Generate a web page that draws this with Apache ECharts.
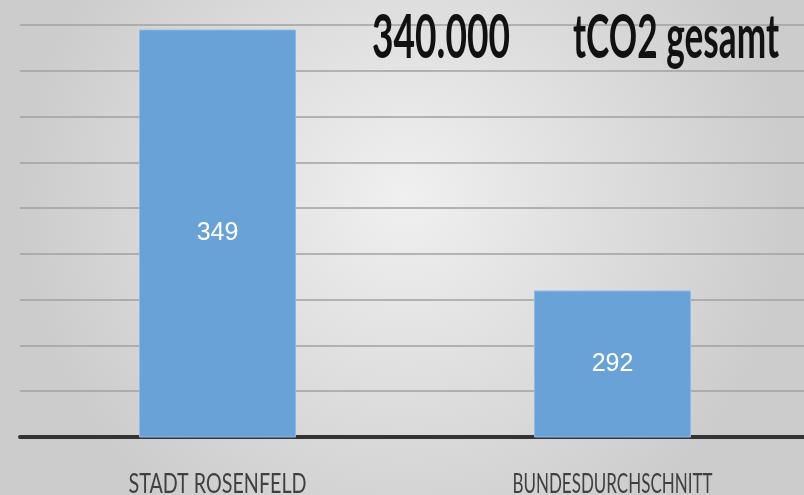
<!DOCTYPE html>
<html>
<head>
<meta charset="utf-8">
<script src="https://cdn.jsdelivr.net/npm/echarts@6/dist/echarts.min.js"></script>
<style>
    html, body { margin: 0; padding: 0; overflow: hidden; }
    /* a bit wider than the window: the plot runs past the right edge */
    #chart { width: 812px; height: 495px; }
</style>
</head>
<body>
<div id="chart"></div>
<script>
var categories = ['STADT ROSENFELD', 'BUNDESDURCHSCHNITT'];
var values = [349, 292];
var totalText = '340.000';
var unitText = 'tCO2 gesamt';
var axisMin = 260, axisMax = 350, axisStep = 10;

// the source uses a narrow font; squeeze text horizontally to a given width
var measureCtx = document.createElement('canvas').getContext('2d');
function squeeze(text, font, targetWidth) {
    measureCtx.font = font;
    return targetWidth / measureCtx.measureText(text).width;
}

var chart = echarts.init(document.getElementById('chart'));
chart.setOption({
    animation: false,
    backgroundColor: {
        type: 'radial', x: 0.5, y: 0.4, r: 0.78,
        colorStops: [{offset: 0, color: '#f0f0f0'}, {offset: 1, color: '#cccccc'}]
    },
    grid: {left: 20, width: 790, top: 25, bottom: 58},
    xAxis: {
        type: 'category',
        data: categories,
        axisTick: {show: false},
        axisLine: {lineStyle: {color: '#333', width: 4}},
        axisLabel: {show: false}
    },
    yAxis: {
        type: 'value',
        min: axisMin, max: axisMax, interval: axisStep,
        axisLabel: {show: false},
        axisLine: {show: false},
        axisTick: {show: false},
        splitLine: {lineStyle: {color: '#a0a0a0', width: 1.5}}
    },
    series: [{
        type: 'bar',
        data: values,
        barWidth: 157,
        itemStyle: {color: '#69a2d7', borderColor: '#8dbbe6', borderWidth: 1},
        label: {
            show: true,
            position: 'inside',
            fontFamily: 'Liberation Sans',
            fontSize: 25,
            color: '#fff'
        }
    }]
});

var titleFont = 'bold 62px Lato';
var labelFont = '27px Lato';
var graphics = [{
    type: 'text', x: 372, y: 38,
    scaleX: squeeze(totalText, titleFont, 138),
    style: {text: totalText, font: titleFont, fill: '#111', textAlign: 'left', textVerticalAlign: 'middle'}
}, {
    type: 'text', x: 573, y: 38,
    scaleX: squeeze(unitText, titleFont, 206),
    style: {text: unitText, font: titleFont, fill: '#111', textAlign: 'left', textVerticalAlign: 'middle'}
}];
var labelWidths = [178, 200];
categories.forEach(function (name, i) {
    var x = chart.convertToPixel({xAxisIndex: 0}, name);
    graphics.push({
        type: 'text', x: x, y: 484,
        scaleX: squeeze(name, labelFont, labelWidths[i]),
        style: {text: name, font: labelFont, fill: '#404040', textAlign: 'center', textVerticalAlign: 'middle'}
    });
});
chart.setOption({graphic: graphics});
</script>
</body>
</html>
